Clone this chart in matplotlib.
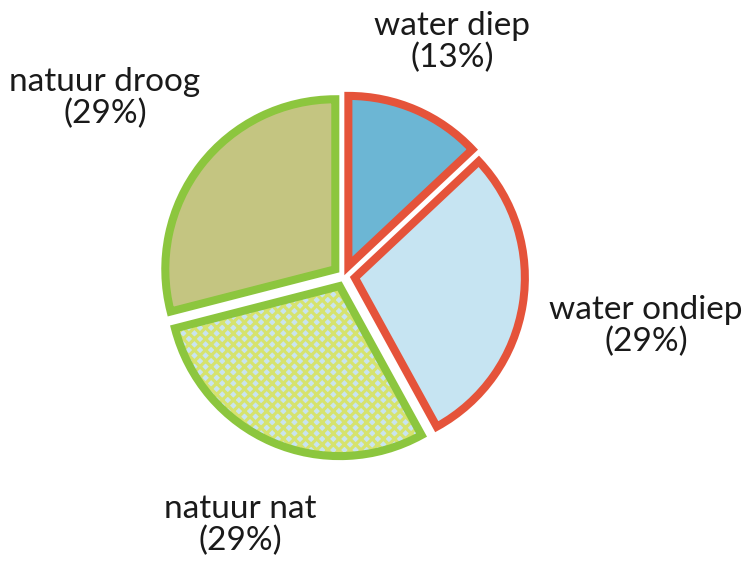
import matplotlib
matplotlib.use('Agg')
import matplotlib.pyplot as plt
from matplotlib.patches import Wedge

# slices, clockwise from 12 o'clock
labels = ['water diep', 'water ondiep', 'natuur nat', 'natuur droog']
percent = [13, 29, 29, 29]
fills = ['#6cb6d4', '#c6e4f2', '#c9e4f0', '#c4c581']
edges = ['#e5533a', '#e5533a', '#8cc63e', '#8cc63e']
# label block centres (pixel coords, y from top)
label_x = [452, 646, 240, 105]
label_y = [42, 326, 525, 98]

plt.rcParams['font.family'] = ['Lato', 'DejaVu Sans']
plt.rcParams['hatch.linewidth'] = 2.3

W, H = 744, 563
fig = plt.figure(figsize=(W / 100, H / 100), dpi=100)
ax = fig.add_axes([0, 0, 1, 1])

lw = 5.8
# explode is in data units (pixels here)
wedges, _ = ax.pie(percent, radius=170, center=(344, H - 276), startangle=90,
                   counterclock=False, explode=[11] * 4, colors=fills,
                   wedgeprops=dict(linewidth=lw))
for w, ec in zip(wedges, edges):
    w.set_edgecolor(ec)

# natuur nat gets a speckled pattern, border drawn on top
w = wedges[2]
w.set_edgecolor('#d6e36e')
w.set_hatch('xxx')
w.set_linewidth(0)
ax.add_patch(Wedge(w.center, w.r, w.theta1, w.theta2, fill=False,
                   edgecolor=edges[2], linewidth=lw))

for lab, p, x, y in zip(labels, percent, label_x, label_y):
    ax.text(x, H - y, f'{lab}\n({p}%)', ha='center', va='center',
            multialignment='center', fontsize=24, color='#1a1a1a',
            linespacing=1.1)

ax.set_xlim(0, W)
ax.set_ylim(0, H)
ax.set_aspect('equal')
ax.axis('off')

fig.savefig('out.png', dpi=100)
